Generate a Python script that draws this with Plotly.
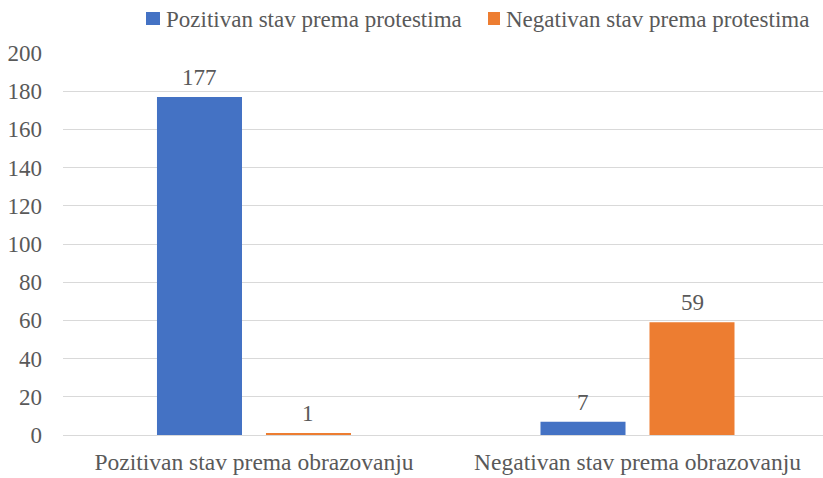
import plotly.graph_objects as go

categories = ["Pozitivan stav prema obrazovanju", "Negativan stav prema obrazovanju"]
series_names = ["Pozitivan stav prema protestima", "Negativan stav prema protestima"]
pozitivan_protest = [177, 7]
negativan_protest = [1, 59]
colors = ["#4472C4", "#ED7D31"]
y_ticks = [0, 20, 40, 60, 80, 100, 120, 140, 160, 180, 200]

FONT = "Liberation Serif"
GRAY = "#595959"
FS = 23

fig = go.Figure()
for i, (name, vals, c) in enumerate(zip(series_names, [pozitivan_protest, negativan_protest], colors)):
    fig.add_trace(go.Bar(
        x=categories, y=vals, name=name, marker=dict(color=c, line=dict(width=0)),
        offsetgroup=str(i), showlegend=False,
    ))

# data labels placed above bars
for i, vals in enumerate([pozitivan_protest, negativan_protest]):
    for cat, v in zip(categories, vals):
        fig.add_annotation(
            x=cat, y=v, text=str(v), showarrow=False, yanchor="bottom",
            xshift=(-54.5 if i == 0 else 54.5), yshift=5,
            font=dict(family=FONT, size=FS, color=GRAY),
        )

# legend drawn as squares + text above the plot (paper coordinates)
legend_sq_x = [(0.1092, 0.1276), (0.5592, 0.5750)]
legend_txt_x = [0.1342, 0.5816]
for name, c, (x0, x1), tx in zip(series_names, colors, legend_sq_x, legend_txt_x):
    fig.add_shape(type="rect", xref="paper", yref="paper", x0=x0, x1=x1, y0=1.0733, y1=1.1073,
                  fillcolor=c, line=dict(width=0))
    fig.add_annotation(xref="paper", yref="paper", x=tx, y=1.0890, xanchor="left", yanchor="middle",
                       text=name, showarrow=False, borderpad=0,
                       font=dict(family=FONT, size=FS, color=GRAY))

fig.update_layout(
    width=823, height=478,
    margin=dict(l=63, r=0, t=53, b=43, autoexpand=False),
    paper_bgcolor="white", plot_bgcolor="white",
    barmode="group", bargap=0.4316, bargroupgap=0.22,
    font=dict(family=FONT, size=FS, color=GRAY),
    showlegend=False,
    xaxis=dict(type="category", range=[-0.498, 1.4837], showgrid=False, showline=False,
               ticks="", ticklabelstandoff=10, tickfont=dict(family=FONT, size=23.5, color=GRAY)),
    yaxis=dict(range=[0, 200], tickvals=y_ticks, showgrid=True, gridcolor="#D9D9D9",
               gridwidth=1, zeroline=True, zerolinecolor="#D9D9D9", zerolinewidth=1,
               showline=False, ticks="", ticklabelstandoff=20,
               tickfont=dict(family=FONT, size=FS, color=GRAY)),
)

# remove the browser's default body margin so the figure sits at the window origin
fig.write_html("out.html", config={"displayModeBar": False},
               post_script="document.body.style.margin='0';")
